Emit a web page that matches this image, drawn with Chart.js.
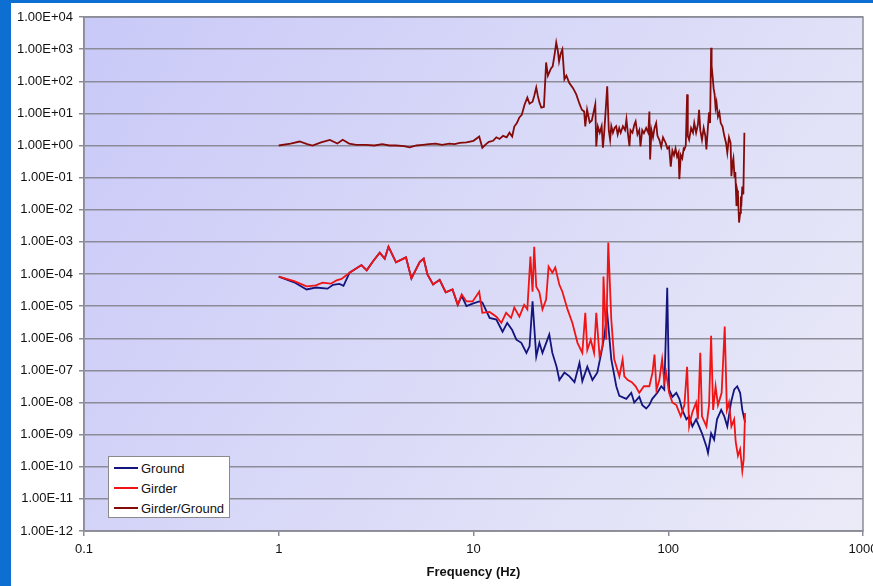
<!DOCTYPE html>
<html>
<head>
<meta charset="utf-8">
<script src="https://cdn.jsdelivr.net/npm/chart.js@4.4.0/dist/chart.umd.min.js"></script>
<style>
    html, body { margin: 0; padding: 0; overflow: hidden; }
    body { width: 873px; height: 586px; background: #0d6fd1; position: relative; font-family: "Liberation Sans", Arial, sans-serif; }
    .panel { position: absolute; left: 11px; top: 3px; width: 870px; height: 590px; background: #ffffff; }
    #chart { position: absolute; left: 0; top: 0; }
    .legend { position: absolute; left: 108px; top: 456px; width: 120px; height: 59px; background: #fff; border: 1px solid #8a8a8a; padding-top: 1px; box-sizing: content-box; }
    .legend .row { height: 20px; display: flex; align-items: center; font-size: 13px; color: #111; }
    .legend .swatch { width: 24px; height: 2px; margin: 0 3px 0 5px; }
</style>
</head>
<body>
<div class="panel"></div>
<canvas id="chart" width="893" height="586"></canvas>
<div class="legend" id="legend"></div>
<script>
const seriesNames = ['Ground', 'Girder', 'Girder/Ground'];
const seriesColors = ['#14147e', '#f01414', '#850a0a'];

const xTicks = [0.1, 1, 10, 100, 1000];
const xTickLabels = ['0.1', '1', '10', '100', '1000'];
const yTicks = [1e-12, 1e-11, 1e-10, 1e-9, 1e-8, 1e-7, 1e-6, 1e-5, 1e-4, 1e-3, 1e-2, 1e-1, 1e0, 1e1, 1e2, 1e3, 1e4];

// Ground
const groundFreq = [1.0, 1.2, 1.39, 1.55, 1.78, 1.9, 2.05, 2.15, 2.31, 2.66, 2.83, 3.05, 3.3, 3.5, 3.66, 4.0, 4.5, 4.8, 5.3, 5.55,
    5.8, 6.2, 6.7, 7.2, 7.8, 8.3, 8.7, 9.2, 9.9, 10.7, 11.1, 12.1, 13.1, 14.1, 14.9, 15.8, 16.6, 17.6, 18.7, 19.4,
    20.1, 21.0, 21.8, 22.6, 24.5, 25.4, 26.7, 27.6, 29.3, 31.1, 33.0, 35.0, 36.2, 38.4, 40.8, 43.2, 45.3, 47.0, 48.6, 51.0,
    54.1, 56.1, 60.9, 64.6, 66.9, 71.0, 73.6, 77.1, 79.9, 82.8, 87.9, 92.1, 95.4, 98.8, 101, 105, 110, 114, 118, 124,
    128, 133, 139, 144, 149, 157, 160, 166, 172, 178, 187, 194, 201, 210, 218, 226, 234, 240, 248];
const groundVal = [8.3e-5, 5.5e-5, 3.3e-5, 3.8e-5, 3.5e-5, 4.6e-5, 4.9e-5, 4.3e-5, 1.1e-4, 1.9e-4, 1.3e-4, 2.5e-4, 4.6e-4, 3.0e-4, 7.1e-4, 2.3e-4, 3.3e-4, 7.3e-5, 2.4e-4, 3.0e-4,
    9.7e-5, 4.7e-5, 6.6e-5, 2.7e-5, 3.3e-5, 1.1e-5, 2.1e-5, 1.0e-5, 1.2e-5, 1.4e-5, 1.3e-5, 4.3e-6, 3.8e-6, 1.6e-6, 3.0e-6, 1.8e-6, 9.0e-7, 7.2e-7, 3.5e-7, 5.6e-7,
    1.4e-5, 2.7e-7, 7.2e-7, 3.5e-7, 1.3e-6, 3.5e-7, 1.3e-7, 5.0e-8, 8.5e-8, 6.5e-8, 4.3e-8, 1.7e-7, 4.6e-8, 1.3e-7, 5.0e-8, 8.5e-8, 3.5e-7, 1.2e-6, 6.0e-6, 2.2e-7,
    3.2e-8, 1.6e-8, 1.3e-8, 2.0e-8, 1.0e-8, 1.5e-8, 8.3e-9, 6.5e-9, 8.3e-9, 1.3e-8, 2.0e-8, 3.2e-8, 2.5e-8, 3.7e-5, 2.5e-8, 1.5e-8, 2.0e-8, 1.3e-8, 5.9e-9, 3.0e-9,
    3.7e-9, 1.8e-9, 3.0e-9, 1.8e-9, 1.1e-9, 4.3e-10, 2.7e-10, 1.1e-9, 7.0e-10, 3.0e-9, 5.9e-9, 3.7e-9, 1.8e-9, 1.0e-8, 2.5e-8, 3.2e-8, 2.0e-8, 5.9e-9, 2.4e-9];

// Girder
const girderFreq = [1.0, 1.2, 1.39, 1.55, 1.68, 1.85, 1.98, 2.1, 2.31, 2.66, 2.83, 3.05, 3.3, 3.5, 3.66, 4.0, 4.5, 4.8, 5.3, 5.55,
    5.8, 6.2, 6.7, 7.2, 7.8, 8.3, 8.7, 9.2, 9.9, 10.7, 11.1, 12.1, 13.1, 13.9, 14.7, 15.6, 16.2, 17.2, 18.2, 18.9,
    19.6, 20.1, 20.5, 21.0, 21.8, 22.6, 23.6, 24.3, 25.4, 26.3, 27.6, 28.6, 30.4, 32.2, 34.2, 36.2, 37.5, 38.4, 40.0, 41.6,
    42.7, 44.4, 46.0, 46.5, 48.0, 49.2, 51.0, 52.8, 56.1, 58.3, 59.5, 62.0, 65.0, 68.0, 71.0, 75.0, 80.0, 83.0, 85.0, 87.0,
    90.0, 93.0, 95.4, 97.5, 101, 105, 110, 116, 121, 125, 128, 133, 139, 142, 146, 149, 157, 162, 166, 170,
    175, 180, 188, 195, 200, 205, 211, 218, 222, 228, 234, 240, 244, 248];
const girderVal = [8.3e-5, 6.0e-5, 4.1e-5, 4.4e-5, 5.4e-5, 5.0e-5, 6.3e-5, 7.0e-5, 1.1e-4, 1.9e-4, 1.3e-4, 2.5e-4, 4.6e-4, 3.0e-4, 7.1e-4, 2.3e-4, 3.3e-4, 7.3e-5, 2.4e-4, 3.0e-4,
    9.7e-5, 4.7e-5, 6.6e-5, 2.7e-5, 3.3e-5, 1.1e-5, 2.3e-5, 1.4e-5, 1.4e-5, 2.8e-5, 6.2e-6, 6.6e-6, 4.7e-6, 3.0e-6, 6.2e-6, 4.3e-6, 9.0e-6, 4.7e-6, 1.1e-5, 7.9e-6,
    3.5e-4, 2.8e-5, 7.0e-4, 4.0e-5, 2.7e-5, 7.9e-6, 1.6e-5, 1.7e-4, 1.1e-4, 1.6e-4, 4.6e-5, 2.8e-5, 7.9e-6, 3.0e-6, 7.2e-7, 3.5e-7, 6.2e-6, 4.3e-7, 9.0e-7, 3.5e-7,
    6.2e-6, 2.7e-7, 5.6e-7, 8.3e-5, 9.0e-7, 9.5e-4, 3.8e-6, 2.2e-7, 6.5e-8, 2.2e-7, 6.5e-8, 5.0e-8, 4.3e-8, 3.2e-8, 2.0e-8, 3.2e-8, 3.2e-8, 8.5e-8, 3.1e-7, 2.5e-8,
    5.0e-8, 2.2e-7, 4.3e-8, 8.5e-8, 2.0e-8, 1.0e-8, 8.3e-9, 3.7e-9, 8.3e-9, 1.3e-7, 1.8e-9, 5.0e-9, 1.0e-8, 3.0e-9, 3.5e-7, 3.7e-9, 1.8e-9, 8.3e-9, 1.2e-6, 5.9e-9,
    3.2e-8, 8.3e-9, 2.0e-8, 2.3e-6, 5.9e-9, 1.0e-8, 1.8e-9, 3.0e-9, 5.9e-10, 2.2e-10, 3.5e-10, 7.5e-11, 1.7e-10, 4.7e-9];

// Girder/Ground
const ratioFreq = [1.0, 1.15, 1.28, 1.4, 1.49, 1.65, 1.83, 2.0, 2.13, 2.3, 2.5, 2.8, 3.1, 3.4, 3.7, 4.0, 4.4, 4.7, 5.1, 5.5,
    5.9, 6.4, 6.9, 7.5, 8.0, 8.5, 9.2, 10.0, 10.7, 11.1, 11.6, 12.0, 12.6, 13.1, 13.6, 14.2, 14.8, 15.3, 15.8, 16.2,
    16.7, 17.2, 17.7, 18.3, 18.9, 19.4, 20.1, 20.5, 21.0, 21.4, 21.8, 22.3, 23.0, 23.6, 24.1, 24.5, 25.0, 25.5, 26.1, 26.6,
    27.1, 27.5, 28.0, 28.6, 29.3, 30.0, 31.0, 32.5, 33.7, 35.0, 36.0, 37.0, 37.5, 38.3, 39.5, 40.5, 42.2, 42.7, 43.5, 44.5,
    45.5, 46.2, 47.0, 48.6, 49.5, 50.3, 51.0, 52.0, 53.0, 54.0, 55.0, 56.0, 57.0, 58.5, 60.0, 61.0, 62.0, 63.2, 64.0, 65.5,
    67.0, 68.0, 69.5, 71.0, 72.0, 73.5, 75.0, 77.0, 79.0, 80.0, 80.7, 82.0, 83.5, 85.0, 86.7, 88.0, 90.0, 92.0, 94.0, 97.0,
    99, 101, 103, 105, 107, 109, 111, 113, 114, 116, 118, 120, 121, 123, 125, 126, 128, 131, 134, 136,
    139, 142, 144, 146, 149, 152, 155, 157, 160, 162, 164, 166, 167, 169, 171, 173, 175, 177, 180, 183,
    186, 190, 194, 198, 201, 205, 209, 211, 214, 216, 219, 221, 224, 226, 228, 231, 234, 236, 238, 240, 243, 246];
const ratioVal = [1.0, 1.15, 1.33, 1.1, 1.0, 1.25, 1.5, 1.15, 1.5, 1.15, 1.05, 1.05, 1.0, 1.1, 1.0, 1.0, 0.95, 0.88, 1.0, 1.05,
    1.1, 1.15, 1.05, 1.15, 1.1, 1.2, 1.25, 1.4, 1.9, 0.85, 1.1, 1.3, 1.4, 1.8, 1.6, 2.0, 1.8, 2.5, 1.9, 3.9,
    5, 7.5, 9, 19, 31, 20, 23, 35, 64, 35, 22, 15, 16, 385, 150, 190, 250, 290, 700, 1600,
    900, 410, 700, 980, 115, 150, 90, 60, 39, 20, 13, 11.5, 3.9, 13, 5.2, 6, 19, 0.93, 3.9, 2.5,
    4, 0.86, 3, 70, 3, 1.5, 4, 2.5, 3.5, 4, 2.2, 3.5, 2.5, 4, 3, 6.5, 2.5, 0.95, 3, 2.5,
    4.5, 5.6, 2.2, 3, 0.93, 3, 2.4, 3.5, 2.5, 11.5, 0.37, 3, 1.8, 3.5, 5, 2, 1.5, 0.9, 1.8, 1.2,
    0.8, 0.9, 0.22, 0.7, 0.5, 0.8, 0.45, 0.6, 0.09, 0.5, 0.4, 0.8, 0.75, 1.0, 39, 2, 1.5, 3.5, 2.5, 5,
    2.5, 4.5, 13, 3, 1.5, 3.5, 2, 0.75, 4, 10.7, 5, 1100, 300, 140, 60, 40, 15, 22, 8, 10.7,
    5, 3.9, 2, 1.2, 0.6, 1.8, 1.2, 0.11, 0.3, 0.4, 0.1, 0.15, 0.013, 0.04, 0.03, 0.004, 0.008, 0.026, 0.02, 0.053, 0.03, 2.5];

function sci(v) {
    const e = Math.round(Math.log10(v));
    const m = v / Math.pow(10, e);
    return m.toFixed(2) + 'E' + (e < 0 ? '-' : '+') + String(Math.abs(e)).padStart(2, '0');
}

function points(freq, vals) {
    return freq.map((f, i) => ({ x: f, y: vals[i] }));
}

const plotBackground = {
    id: 'plotBackground',
    beforeDraw(chart) {
        const { ctx, chartArea: a } = chart;
        const g = ctx.createLinearGradient(a.left, a.top, a.right, a.bottom);
        g.addColorStop(0, '#c9c9f8');
        g.addColorStop(1, '#ebebf8');
        ctx.save();
        ctx.fillStyle = g;
        ctx.fillRect(a.left, a.top, a.right - a.left, a.bottom - a.top);
        ctx.restore();
    },
    afterDraw(chart) {
        const { ctx, chartArea: a } = chart;
        ctx.save();
        ctx.strokeStyle = '#8c8c98';
        ctx.lineWidth = 1.5;
        ctx.strokeRect(a.left, a.top, a.right - a.left, a.bottom - a.top);
        ctx.restore();
    }
};

const allData = [points(groundFreq, groundVal), points(girderFreq, girderVal), points(ratioFreq, ratioVal)];

const tickFont = { family: '"Liberation Sans", Arial, sans-serif', size: 13 };

new Chart(document.getElementById('chart'), {
    type: 'line',
    data: {
        datasets: allData.map((d, i) => ({
            label: seriesNames[i],
            data: d,
            borderColor: seriesColors[i],
            borderWidth: 1.8,
            pointRadius: 0,
            tension: 0,
            order: 3 - i
        }))
    },
    options: {
        responsive: false,
        animation: false,
        layout: { padding: { top: 17, right: 30, left: 0, bottom: 0 } },
        plugins: { legend: { display: false }, tooltip: { enabled: false } },
        scales: {
            x: {
                type: 'logarithmic',
                min: 0.1,
                max: 1000,
                afterBuildTicks: s => { s.ticks = xTicks.map(v => ({ value: v })); },
                afterFit: s => { s.height = 55; },
                ticks: {
                    callback: (v) => xTickLabels[xTicks.indexOf(v)] ?? '',
                    color: '#111',
                    font: tickFont,
                    padding: 6,
                    maxRotation: 0,
                    autoSkip: false
                },
                grid: { drawOnChartArea: false, tickLength: 5, color: '#8c8c98', lineWidth: 1.5 },
                border: { color: '#8c8c98', width: 1.5 },
                title: {
                    display: true,
                    text: 'Frequency (Hz)',
                    color: '#111',
                    font: { family: '"Liberation Sans", Arial, sans-serif', size: 13, weight: 'bold' },
                    padding: { top: 4, bottom: 6 }
                }
            },
            y: {
                type: 'logarithmic',
                min: 1e-12,
                max: 1e4,
                afterBuildTicks: s => { s.ticks = yTicks.map(v => ({ value: v })); },
                afterFit: s => { s.width = 84; },
                ticks: {
                    callback: v => sci(v),
                    color: '#111',
                    font: tickFont,
                    padding: 6,
                    autoSkip: false
                },
                grid: { tickLength: 5, color: '#8c8c98', lineWidth: 1.5 },
                border: { color: '#8c8c98', width: 1.5 }
            }
        }
    },
    plugins: [plotBackground]
});

const legend = document.getElementById('legend');
seriesNames.forEach((name, i) => {
    legend.innerHTML += `
        <div class="row">
            <span class="swatch" style="background:${seriesColors[i]}"></span>
            <span>${name}</span>
        </div>
    `;
});
</script>
</body>
</html>
